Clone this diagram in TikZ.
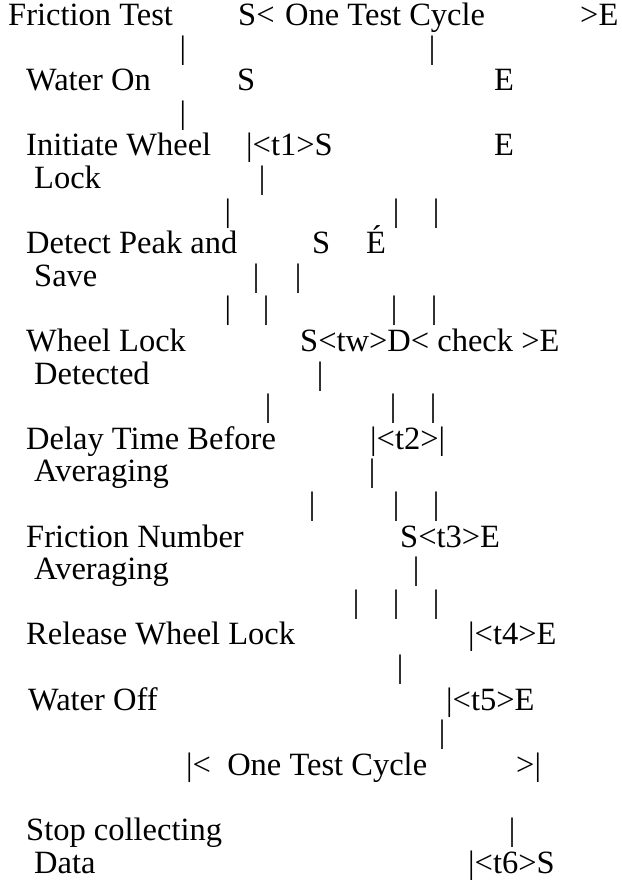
\documentclass[tikz,border=0pt]{standalone}
\usepackage{fontspec}
\setmainfont{Liberation Serif}
\usepackage{tikz}

\begin{document}
\begin{tikzpicture}[x=1pt, y=-32.6pt,
    lbl/.style={anchor=base west, inner sep=0pt, font=\fontsize{32.5}{32.6}\selectfont},
    bar/.style={anchor=base, inner sep=0pt, font=\fontsize{32.5}{32.6}\selectfont}]
		\useasboundingbox (0,-0.7822) rectangle (621,26.3037);
		
		\node[lbl] (fric) at (8, 0) {Friction Test};
		\node[lbl] (fricS) at (238, 0) {S<};
		\node[lbl] (cycle) at (285, 0) {One Test Cycle};
		\node[lbl] (fricE) at (580, 0) {>E};
		\node[bar] (b1a) at (183, 1) {|};
		\node[bar] (b1b) at (432, 1) {|};
		
		\node[lbl] (won) at (26, 2) {Water On};
		\node[lbl] (wonS) at (237, 2) {S};
		\node[lbl] (wonE) at (494, 2) {E};
		\node[bar] (b3a) at (183, 3) {|};
		
		\node[lbl] (init) at (26, 4) {Initiate Wheel};
		\node[lbl] (initS) at (246, 4) {|<t1>S};
		\node[lbl] (initE) at (494, 4) {E};
		\node[lbl] (init2) at (34, 5) {Lock};
		\node[bar] (b5a) at (262, 5) {|};
		\node[bar] (b6a) at (228, 6) {|};
		\node[bar] (b6b) at (396, 6) {|};
		\node[bar] (b6c) at (436, 6) {|};
		
		\node[lbl] (peak) at (26, 7) {Detect Peak and};
		\node[lbl] (peakS) at (312, 7) {S};
		\node[lbl] (peakE) at (366, 7) {É};
		\node[lbl] (peak2) at (34, 8) {Save};
		\node[bar] (b8a) at (256, 8) {|};
		\node[bar] (b8b) at (298, 8) {|};
		\node[bar] (b9a) at (228, 9) {|};
		\node[bar] (b9b) at (266, 9) {|};
		\node[bar] (b9c) at (394, 9) {|};
		\node[bar] (b9d) at (434, 9) {|};
		
		\node[lbl] (lock) at (26, 10) {Wheel Lock};
		\node[lbl] (lockS) at (300, 10) {S<tw>D< check >E};
		\node[lbl] (lock2) at (34, 11) {Detected};
		\node[bar] (b11a) at (320, 11) {|};
		\node[bar] (b12a) at (268, 12) {|};
		\node[bar] (b12b) at (393, 12) {|};
		\node[bar] (b12c) at (433, 12) {|};
		
		\node[lbl] (delay) at (26, 13) {Delay Time Before};
		\node[lbl] (delayT) at (370, 13) {|<t2>|};
		\node[lbl] (delay2) at (34, 14) {Averaging};
		\node[bar] (b14a) at (372, 14) {|};
		\node[bar] (b15a) at (312, 15) {|};
		\node[bar] (b15b) at (396, 15) {|};
		\node[bar] (b15c) at (436, 15) {|};
		
		\node[lbl] (fnum) at (26, 16) {Friction Number};
		\node[lbl] (fnumS) at (400, 16) {S<t3>E};
		\node[lbl] (fnum2) at (34, 17) {Averaging};
		\node[bar] (b17a) at (416, 17) {|};
		\node[bar] (b18a) at (356, 18) {|};
		\node[bar] (b18b) at (396, 18) {|};
		\node[bar] (b18c) at (436, 18) {|};
		
		\node[lbl] (rel) at (26, 19) {Release Wheel Lock};
		\node[lbl] (relT) at (468, 19) {|<t4>E};
		\node[bar] (b20a) at (400, 20) {|};
		
		\node[lbl] (woff) at (28, 21) {Water Off};
		\node[lbl] (woffT) at (446, 21) {|<t5>E};
		\node[bar] (b22a) at (442, 22) {|};
		
		\node[lbl] (total) at (186, 23) {|<\ \ One Test Cycle};
		\node[lbl] (totalE) at (516, 23) {>|};
		
		\node[lbl] (stop) at (26, 25) {Stop collecting};
		\node[bar] (b25a) at (512, 25) {|};
		\node[lbl] (stop2) at (34, 26) {Data};
		\node[lbl] (stopT) at (468, 26) {|<t6>S};
		\end{tikzpicture}
\end{document}
